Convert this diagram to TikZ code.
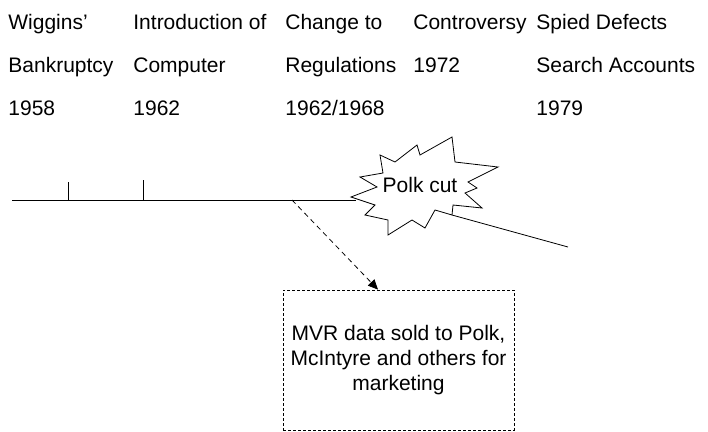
\documentclass[tikz,border=0pt]{standalone}
\usepackage{fontspec}
\setmainfont{Liberation Sans}
\usetikzlibrary{arrows.meta}

\tikzset{
    event/.style={anchor=base west,inner sep=0pt,font=\fontsize{21}{25}\selectfont},
    noteline/.style={dash pattern=on 3pt off 2pt},
    soldarrow/.style={dash pattern=on 5pt off 4pt,-{Triangle[length=10pt,width=9pt]}}
}

\begin{document}
\begin{tikzpicture}[x=1pt,y=-1pt,line width=0.8pt]
    \useasboundingbox (0,0) rectangle (708,431);
    % events, three rows
    \node[event] (wigA) at (8,29) {Wiggins'};
    \node[event] (wigB) at (8,72) {Bankruptcy};
    \node[event] (wigC) at (8,115) {1958};
    \node[event] (compA) at (133,29) {Introduction of};
    \node[event] (compB) at (133,72) {Computer};
    \node[event] (compC) at (133,115) {1962};
    \node[event] (regA) at (285,29) {Change to};
    \node[event] (regB) at (285,72) {Regulations};
    \node[event] (regC) at (285,115) {1962/1968};
    \node[event] (contA) at (413,29) {Controversy};
    \node[event] (contB) at (413,72) {1972};
    \node[event] (spyA) at (536,29) {Spied Defects};
    \node[event] (spyB) at (536,72) {Search Accounts};
    \node[event] (spyC) at (536,115) {1979};
    % time line with ticks
    \coordinate (tlstart) at (12,200);
    \coordinate (burstL) at (356,200);
    \coordinate (burstR) at (452,215);
    \coordinate (tlend) at (568,247);
    \coordinate (sold) at (292,200);
    \draw (tlstart) -- (burstL);
    \draw (68,200) -- (68,182);
    \draw (143,200) -- (143,180);
    % Polk cut burst
    \draw[fill=white] (380,155) -- (395,162) -- (417,145) -- (420,155) -- (452,137)
        -- (455,162) -- (498,167) -- (468,182) -- (477,188) -- (465,193) -- (482,208)
        -- (453,205) -- (452,215) -- (435,210) -- (425,228) -- (412,220) -- (388,235)
        -- (388,220) -- (365,215) -- (375,205) -- (351,197) -- (377,187) -- (360,177)
        -- (383,173) -- cycle;
    \node[inner sep=0pt,font=\fontsize{21}{25}\selectfont] (polk) at (420,185) {Polk cut};
    \draw (burstR) -- (tlend);
    % MVR sales
    \node[draw,noteline,minimum width=231pt,minimum height=140pt,align=center,
        font=\fontsize{21}{25}\selectfont] (mvr) at (398.5,360)
        {MVR data sold to Polk,\\McIntyre and others for\\marketing};
    \draw[soldarrow] (sold) -- ([xshift=-20.5pt]mvr.north);
\end{tikzpicture}
\end{document}
